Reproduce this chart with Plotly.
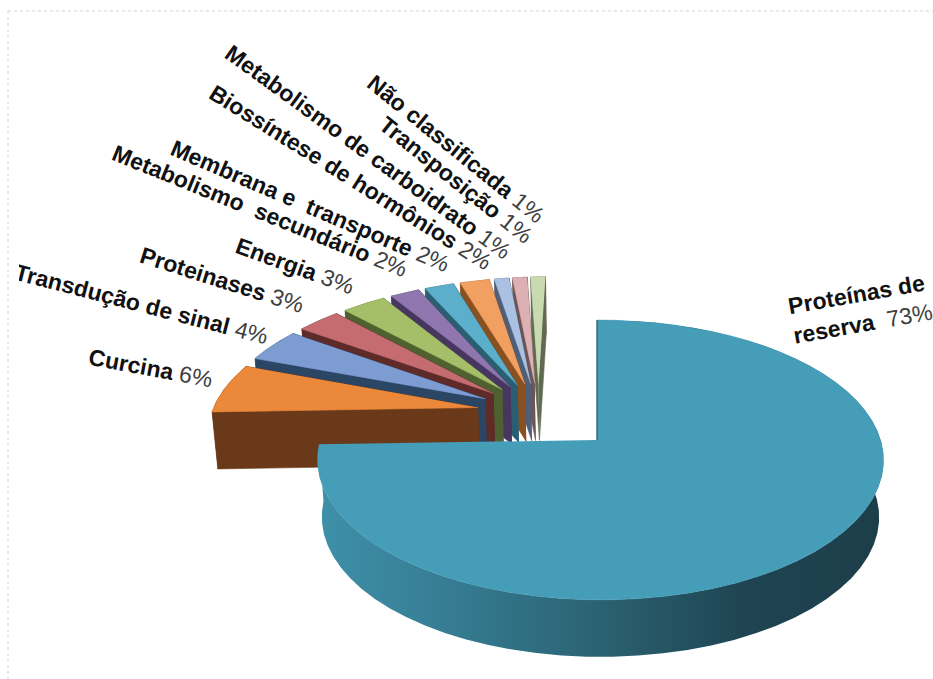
import numpy as np
import plotly.graph_objects as go

# Categories in pie order, clockwise from 12 o'clock
categories = [
    "Proteínas de<br>reserva ", "Curcina", "Transdução de sinal", "Proteinases", "Energia",
    "Metabolismo  secundário", "Membrana e  transporte", "Biossíntese de hormônios",
    "Metabolismo de carboidrato", "Transposição", "Não classificada",
]
percent = [73, 6, 4, 3, 3, 2, 2, 2, 1, 1, 1]

top_colors = ["#459DB8", "#EC883A", "#7C9CD2", "#C46C70", "#A4BF68", "#8F76AF",
              "#5CAFCB", "#F1A062", "#AAC1E2", "#DDB1B3", "#CADAB0"]
side_colors = ["#2D6A7C", "#69391A", "#2B4565", "#5E2B29", "#4F6131", "#47365F",
               "#2A5F71", "#8B501F", "#505F78", "#6B5557", "#5F6A50"]

# Label placement: centre x, centre y, rotation
label_x = [860, 150, 141, 222, 295, 260, 310, 350, 368, 456, 456]
label_y = [309, 368, 304, 280, 266, 211, 206, 177, 152, 180, 149]
label_rot = [-10, 10.5, 14.5, 17.5, 20, 22, 23.2, 32, 36, 38.5, 39]

# Projection of the pie disc onto the page
CX, CY = 597.0, 440.0
RX, RY = 280.0, 137.0
PERSP_V, PERSP_U = 1 / 7, -0.0124
DEPTH = 57.0
DEPTH_SHRINK = 0.985
BASE_U, BASE_V = -0.215, 0.21   # centre of the small-slice fan
EXPLODE = 0.23


def project(u, v):
    w = 1 + PERSP_V * v + PERSP_U * u
    return CX + RX * u / w, CY - RY * v / w


def drop(x, y):
    return CX + (x - CX) * DEPTH_SHRINK, y + DEPTH


def poly(fig, xs, ys, color=None, gradient=None):
    kw = dict(fillgradient=gradient) if gradient else dict(fillcolor=color)
    fig.add_trace(go.Scatter(
        x=list(xs), y=list(ys), mode="lines", fill="toself",
        line=dict(width=0.6 if color else 0, color=color or "rgba(0,0,0,0)"),
        hoverinfo="skip", showlegend=False, **kw))


def wedge(t0, t1, ou, ov):
    t = np.radians(np.linspace(t0, t1, 60))
    return project(ou + np.sin(t), ov + np.cos(t))


fig = go.Figure()

shares = np.array(percent) / sum(percent) * 360
edges = np.concatenate([[0], np.cumsum(shares)])

# Small slices, back to front, so each one hides the cut face of the one behind
for i in range(len(percent) - 1, 0, -1):
    t0, t1 = edges[i], edges[i + 1]
    mid = np.radians((t0 + t1) / 2)
    ou = BASE_U + EXPLODE * np.sin(mid)
    ov = BASE_V + EXPLODE * np.cos(mid)
    ax, ay = project(ou, ov)
    rx, ry = wedge(t0, t1, ou, ov)
    bx, by = drop(rx, ry)
    bax, bay = drop(ax, ay)
    poly(fig, [ax, rx[0], bx[0], bax], [ay, ry[0], by[0], bay], side_colors[i])
    poly(fig, [ax, rx[-1], bx[-1], bax], [ay, ry[-1], by[-1], bay], side_colors[i])
    poly(fig, np.r_[rx, bx[::-1]], np.r_[ry, by[::-1]], side_colors[i])
    poly(fig, np.r_[ax, rx], np.r_[ay, ry], top_colors[i])

# The large slice sits in front of everything else
t0, t1 = edges[0], edges[1]
rx, ry = wedge(t0, t1, 0, 0)
bx, by = drop(rx, ry)
poly(fig, np.r_[rx, bx[::-1]], np.r_[ry, by[::-1]], gradient=dict(
    type="horizontal",
    colorscale=[[0, "#3E90A9"], [0.2, "#377F96"], [0.45, "#2D6778"],
                [0.75, "#1F4552"], [1, "#1C3E4A"]]))
poly(fig, np.r_[CX, rx], np.r_[CY, ry], top_colors[0])
fig.add_trace(go.Scatter(x=[CX, rx[0]], y=[CY, ry[0]], mode="lines",
                         line=dict(color="#1F4552", width=1),
                         hoverinfo="skip", showlegend=False))

# Rotated value labels: bold name, regular percentage
annotations = []
for name, pct, x, y, rot in zip(categories, percent, label_x, label_y, label_rot):
    bold = "<br>".join(f"<b>{part}</b>" for part in name.split("<br>"))
    annotations.append(dict(
        x=x, y=y, xref="x", yref="y", showarrow=False, textangle=rot, align="left",
        text=f"{bold} <span style='color:#404040'>{pct}%</span>",
        font=dict(family="Liberation Sans", size=23, color="#111111")))

# The longest left-hand label runs into the frame, which trims its first letter
annotations.append(dict(
    x=14, y=275, xref="x", yref="y", showarrow=False, text=" ",
    bgcolor="white", width=10, height=24, borderpad=0, borderwidth=0))

# Thin dotted frame along the top and left
shapes = [
    dict(type="line", x0=8, x1=933, y0=11, y1=11, xref="x", yref="y",
         line=dict(color="#D4D4D4", width=1, dash="dot")),
    dict(type="line", x0=8, x1=8, y0=11, y1=679, xref="x", yref="y",
         line=dict(color="#D4D4D4", width=1, dash="dot")),
]

fig.update_layout(
    width=933, height=679, margin=dict(l=0, r=0, t=0, b=0),
    paper_bgcolor="white", plot_bgcolor="white", showlegend=False,
    xaxis=dict(range=[0, 933], visible=False, fixedrange=True),
    yaxis=dict(range=[679, 0], visible=False, fixedrange=True),
    annotations=annotations, shapes=shapes,
)
fig.write_html("out.html", config=dict(displayModeBar=False))
